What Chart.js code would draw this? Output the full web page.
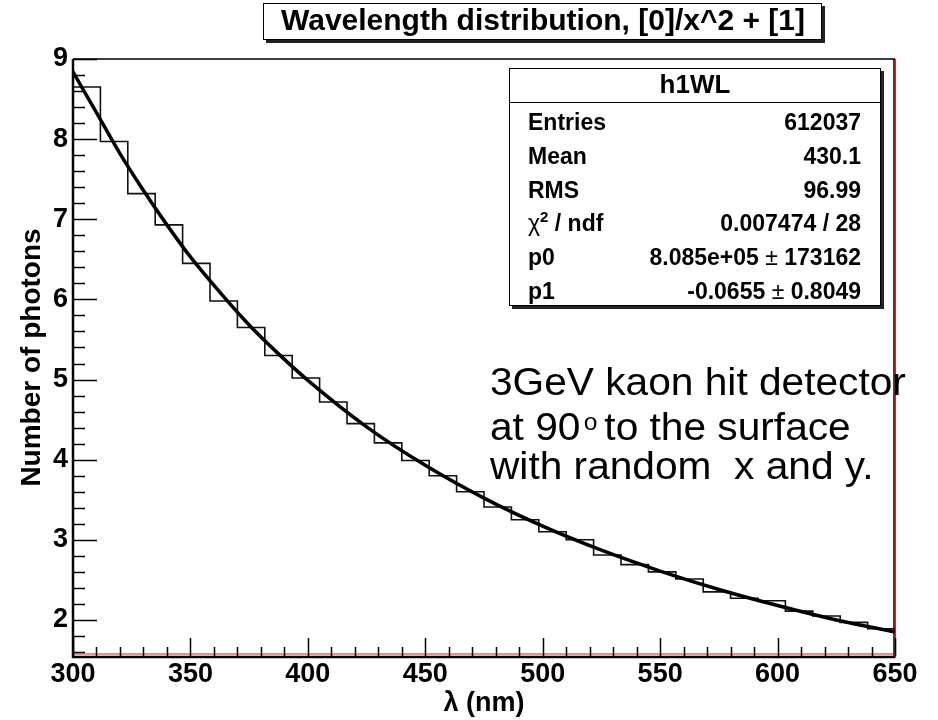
<!DOCTYPE html>
<html>
<head>
<meta charset="utf-8">
<script src="https://cdn.jsdelivr.net/npm/chart.js@4.4.0/dist/chart.umd.min.js"></script>
<style>
html, body { margin: 0; padding: 0; background: #fff; }
#wrap { width: 938px; height: 720px; }
</style>
</head>
<body>
<div id="wrap"><canvas id="plot" width="938" height="720"></canvas></div>
<script>
// histogram h1WL: 30 bins from 300 to 650 nm
const binEdges = [300, 311.67, 323.33, 335, 346.67, 358.33, 370, 381.67, 393.33, 405,
	416.67, 428.33, 440, 451.67, 463.33, 475, 486.67, 498.33, 510, 521.67,
	533.33, 545, 556.67, 568.33, 580, 591.67, 603.33, 615, 626.67, 638.33, 650];
const binCounts = [8.65, 7.97, 7.32, 6.93, 6.45, 5.98, 5.65, 5.30, 5.02, 4.72,
	4.45, 4.21, 3.99, 3.80, 3.60, 3.41, 3.25, 3.10, 3.00, 2.81,
	2.69, 2.60, 2.51, 2.35, 2.27, 2.24, 2.11, 2.05, 1.97, 1.89];

// fitted curve
const fitX = [300, 310, 320, 330, 340, 350, 362.5, 375, 387.5, 400, 425, 450, 475, 500, 525, 550, 575, 600, 625, 650];
const fitY = [8.84, 8.33, 7.82, 7.36, 6.93, 6.53, 6.09, 5.68, 5.32, 4.99, 4.41, 3.93, 3.52, 3.17, 2.87, 2.61, 2.38, 2.18, 2.00, 1.85];

const xTicks = [300, 350, 400, 450, 500, 550, 600, 650];
const yTicks = [2, 3, 4, 5, 6, 7, 8, 9];

const titleText = 'Wavelength distribution, [0]/x^2 + [1]';
const statsName = 'h1WL';
const statsLabels = ['Entries', 'Mean', 'RMS', 'chi2', 'p0', 'p1'];
const statsValues = [['612037'], ['430.1'], ['96.99'], ['0.007474 / 28'], ['8.085e+05', '173162'], ['-0.0655', '0.8049']];
const noteLines = ['3GeV kaon hit detector', 'at 90\u00b0 to the surface', 'with random  x and y.'];

const FAM = "'Liberation Sans', Arial, Helvetica, sans-serif";

const histData = binEdges.map((x, i) => ({x: x, y: binCounts[Math.min(i, binCounts.length - 1)]}));
const fitData = fitX.map((x, i) => ({x: x, y: fitY[i]}));

function piecesWidth(ctx, pieces) {
	let total = 0;
	pieces.forEach(p => { ctx.font = p[1]; total += ctx.measureText(p[0]).width; });
	return total;
}

function drawPieces(ctx, pieces, left, baseline) {
	// pieces: [text, font, raise]
	let x = left;
	pieces.forEach(p => {
		ctx.font = p[1];
		ctx.fillText(p[0], x, baseline - (p[2] || 0));
		x += ctx.measureText(p[0]).width;
	});
}

const rootDecor = {
	id: 'rootDecor',
	beforeDraw(chart) {
		const ctx = chart.ctx;
		ctx.save();
		ctx.fillStyle = '#fff';
		ctx.fillRect(0, 0, chart.width, chart.height);
		ctx.restore();
	},
	afterDatasetsDraw(chart) {
		const ctx = chart.ctx;
		const a = chart.chartArea;
		const xs = chart.scales.x, ys = chart.scales.y;
		ctx.save();
		// frame
		ctx.strokeStyle = '#000';
		ctx.lineWidth = 1.5;
		ctx.beginPath();
		ctx.moveTo(a.left, a.top); ctx.lineTo(a.right, a.top);
		ctx.moveTo(a.right - 1, a.top); ctx.lineTo(a.right - 1, a.bottom);
		ctx.stroke();
		ctx.lineWidth = 2.5;
		ctx.beginPath();
		ctx.moveTo(a.left, a.top); ctx.lineTo(a.left, a.bottom + 1); ctx.lineTo(a.right, a.bottom + 1);
		ctx.stroke();
		// red lines
		ctx.strokeStyle = '#e02020';
		ctx.lineWidth = 1.2;
		ctx.beginPath();
		ctx.moveTo(a.right + 0.5, a.top); ctx.lineTo(a.right + 0.5, a.bottom + 2);
		ctx.moveTo(a.left, a.bottom - 2); ctx.lineTo(a.right, a.bottom - 2);
		ctx.stroke();
		// ticks, pointing inside
		ctx.strokeStyle = '#000';
		ctx.lineWidth = 1.5;
		ctx.beginPath();
		for (let k = 8; k <= 45; k++) {
			const py = Math.round(ys.getPixelForValue(k / 5)) + 0.5;
			const len = (k % 5 === 0) ? 24 : 12;
			ctx.moveTo(a.left, py); ctx.lineTo(a.left + len, py);
		}
		for (let v = 300; v <= 650; v += 10) {
			const px = Math.round(xs.getPixelForValue(v)) + 0.5;
			const len = (v % 50 === 0) ? 18 : 9;
			ctx.moveTo(px, a.bottom); ctx.lineTo(px, a.bottom - len);
		}
		ctx.stroke();
		ctx.restore();
	},
	afterDraw(chart) {
		const ctx = chart.ctx;
		ctx.save();
		ctx.strokeStyle = '#000';
		// title pave
		ctx.fillStyle = '#222';
		ctx.fillRect(266, 6, 559, 37);
		ctx.fillStyle = '#fff';
		ctx.fillRect(263, 3, 559, 37);
		ctx.lineWidth = 1;
		ctx.strokeRect(263.5, 3.5, 558, 36);
		ctx.fillStyle = '#000';
		ctx.font = 'bold 30px ' + FAM;
		ctx.textAlign = 'center';
		ctx.textBaseline = 'middle';
		ctx.fillText(titleText, 543, 22);

		// stats pave
		const bx = 509, by = 68, bw = 372, bh = 238;
		ctx.fillStyle = '#222';
		ctx.fillRect(bx + 3, by + 3, bw, bh);
		ctx.fillStyle = '#fff';
		ctx.fillRect(bx, by, bw, bh);
		ctx.strokeRect(bx + 0.5, by + 0.5, bw - 1, bh - 1);
		ctx.beginPath();
		ctx.moveTo(bx, 102.5); ctx.lineTo(bx + bw, 102.5);
		ctx.stroke();
		ctx.fillStyle = '#000';
		ctx.font = 'bold 26px ' + FAM;
		ctx.fillText(statsName, 695, 86);
		ctx.textBaseline = 'alphabetic';
		ctx.textAlign = 'left';
		const fb = 'bold 23px ' + FAM, fr = '23px ' + FAM, fs = 'bold 15px ' + FAM;
		statsLabels.forEach((lab, i) => {
			const base = 130 + i * 33.8;
			if (lab === 'chi2') {
				drawPieces(ctx, [['\u03c7', fr], ['2', fs, 9], [' / ndf', fb]], 528, base);
			} else {
				drawPieces(ctx, [[lab, fb]], 528, base);
			}
			const vals = statsValues[i];
			const pieces = vals.length === 2 ? [[vals[0], fb], [' \u00b1 ', fr], [vals[1], fb]] : [[vals[0], fb]];
			drawPieces(ctx, pieces, 861 - piecesWidth(ctx, pieces), base);
		});

		// note text (slightly widened like the reference)
		const nf = '38px ' + FAM, nsup = '23px ' + FAM;
		const bases = [395, 440, 479];
		ctx.translate(490, 0);
		ctx.scale(1.07, 1);
		noteLines.forEach((line, i) => {
			const parts = line.split('\u00b0');
			if (parts.length === 2) {
				ctx.font = nf;
				ctx.fillText(parts[0], 0, bases[i]);
				let x = ctx.measureText(parts[0]).width + 3;
				ctx.font = nsup;
				ctx.fillText('o', x, bases[i] - 10);
				x += ctx.measureText('o').width - 4;
				ctx.font = nf;
				ctx.fillText(parts[1], x, bases[i]);
			} else {
				ctx.font = nf;
				ctx.fillText(line, 0, bases[i]);
			}
		});
		ctx.restore();
	}
};

const tickFont = {family: FAM, size: 27, weight: 'bold'};

const plot = new Chart(document.getElementById('plot').getContext('2d'), {
	type: 'line',
	data: {
		datasets: [{
			label: 'fit',
			data: fitData,
			order: 0,
			fill: false,
			borderColor: '#000',
			borderWidth: 3.5,
			cubicInterpolationMode: 'monotone',
			pointRadius: 0
		}, {
			label: 'h1WL',
			data: histData,
			order: 1,
			fill: false,
			stepped: 'before',
			borderColor: '#111',
			borderWidth: 1.6,
			pointRadius: 0
		}]
	},
	options: {
		responsive: false,
		animation: false,
		events: [],
		layout: {
			padding: {left: 0, right: 43, top: 59, bottom: 0}
		},
		plugins: {
			legend: {display: false},
			tooltip: {enabled: false}
		},
		scales: {
			x: {
				type: 'linear',
				position: 'bottom',
				min: 300,
				max: 650,
				afterFit: s => { s.height = 64; },
				afterBuildTicks: s => { s.ticks = xTicks.map(v => ({value: v})); },
				grid: {display: false, drawTicks: false},
				border: {display: false},
				ticks: {color: '#000', font: tickFont, padding: 2, maxRotation: 0, autoSkip: false},
				title: {
					display: true,
					text: '\u03bb (nm)',
					color: '#000',
					font: {family: FAM, size: 27, weight: 'bold'},
					padding: {top: 0, bottom: 0}
				}
			},
			y: {
				type: 'linear',
				min: 1.55,
				max: 9,
				afterFit: s => { s.width = 73; },
				afterBuildTicks: s => { s.ticks = yTicks.map(v => ({value: v})); },
				grid: {display: false, drawTicks: false},
				border: {display: false},
				ticks: {color: '#000', font: tickFont, padding: 5},
				title: {
					display: true,
					text: 'Number of photons',
					color: '#000',
					font: {family: FAM, size: 28, weight: 'bold'},
					padding: {top: 15, bottom: 0}
				}
			}
		}
	},
	plugins: [rootDecor]
});
</script>
</body>
</html>
